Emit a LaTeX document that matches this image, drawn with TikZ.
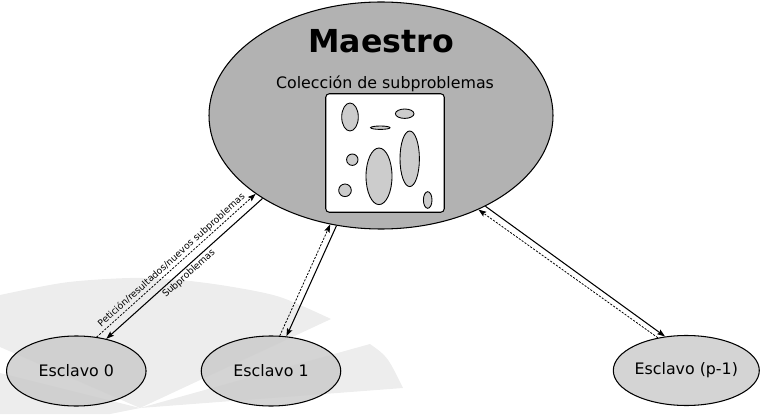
\documentclass[tikz,border=0pt]{standalone}
\usepackage{fontspec}
\setmainfont{DejaVu Sans}
\usetikzlibrary{arrows.meta}
\usetikzlibrary{shapes.geometric}

\begin{document}
\begin{tikzpicture}[
    maestro/.style={ellipse, draw, fill=black!30, line width=0.6pt,
      minimum width=6.88cm, minimum height=4.54cm, inner sep=0pt},
    esclavo/.style={ellipse, draw, fill=black!20, fill opacity=0.85, text opacity=1,
      line width=0.6pt, minimum width=2.79cm, minimum height=1.40cm, inner sep=0pt,
      font=\fontsize{9}{11}\selectfont},
    caja/.style={draw, fill=white, rounded corners=2pt, line width=0.6pt,
      minimum size=2.37cm, inner sep=0pt},
    blob/.style={draw, fill=black!20, line width=0.5pt},
    envio/.style={line width=0.6pt, -{Stealth[length=4.5pt,width=3.2pt,inset=0.8pt]}},
    peticion/.style={envio, line width=0.45pt, dash pattern=on 1.2pt off 0.8pt},
    etiqueta/.style={font=\fontsize{5.3}{6}\selectfont, sloped, inner sep=1pt}
  ]
        \useasboundingbox (0, 0) rectangle (15.24, 8.28);

        % marca de agua
        \fill[black!7] plot[smooth] coordinates {(0, 2.38) (1.3, 2.63) (2.6, 2.72) (3.6, 2.68) (4.6, 2.55) (5.6, 2.34) (6.62, 1.90)}
          -- (2.8, 0.12) -- (0, 1.34) -- cycle;
        \fill[black!7] (7.40, 1.40) .. controls (7.75, 1.15) .. (8.06, 0.52) -- (2.8, 0.12) -- cycle;
        \fill[black!7] (0, 0.82) -- (2.8, 0.12) -- (2.2, 0) -- (0, 0) -- cycle;

        \node[maestro] (m) at (7.62, 5.97) {};
        \node[font=\fontsize{18}{21}\selectfont\bfseries] (titulo) at (7.62, 7.454) {Maestro};
        \node[font=\fontsize{9}{11}\selectfont] (coleccion) at (7.70, 6.60) {Colección de subproblemas};
        \node[caja] (col) at (7.70, 5.22) {};

        \foreach \x/\y/\rx/\ry in {7.00/5.94/0.166/0.28, 8.094/6.006/0.186/0.094,
            7.606/5.726/0.194/0.034, 7.046/5.086/0.114/0.114, 8.194/5.104/0.194/0.556,
            7.58/4.754/0.26/0.566, 6.90/4.474/0.126/0.126, 8.554/4.28/0.086/0.166}
          \draw[blob] (\x, \y) ellipse (\rx cm and \ry cm);

        \node[esclavo] (e0) at (1.526, 0.86) {Esclavo 0};
        \node[esclavo] (e1) at (5.42, 0.86) {Esclavo 1};
        \node[esclavo] (ep) at (13.726, 0.87) {Esclavo (p-1)};

        \draw[peticion] (e0.59) -- (m.212)
          node[etiqueta, midway, above] {Petición/resultados/nuevos subproblemas};
        \draw[envio] (m.215) -- (e0.47)
          node[etiqueta, midway, below] {Subproblemas};
        \draw[peticion] (e1.76) -- (m.245);
        \draw[envio] (m.248) -- (e1.66);
        \draw[envio] (m.319) -- (ep.122);
        \draw[peticion] (ep.131) -- (m.316);
      \end{tikzpicture}
\end{document}
